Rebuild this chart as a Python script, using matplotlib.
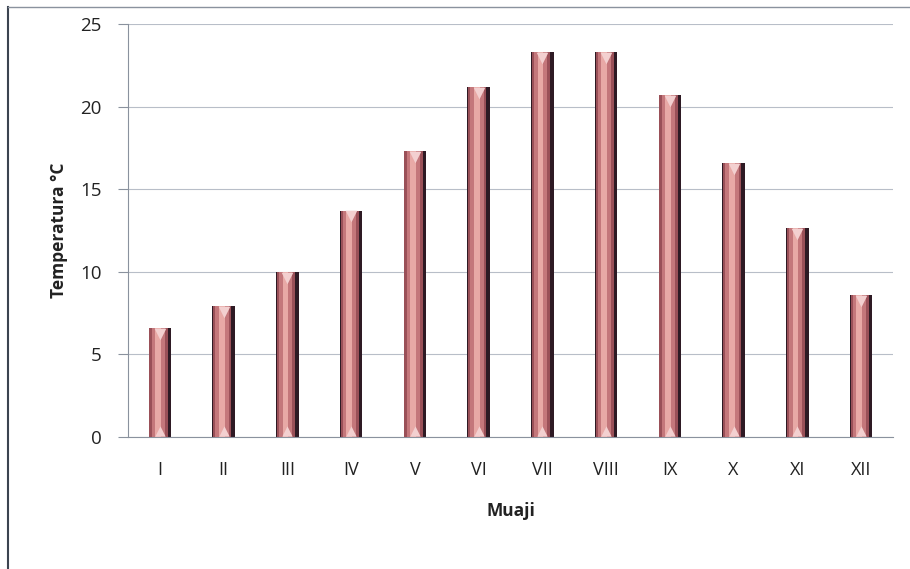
import matplotlib
matplotlib.use("Agg")
import matplotlib.pyplot as plt
from matplotlib.lines import Line2D
import numpy as np

months = ["I", "II", "III", "IV", "V", "VI", "VII", "VIII", "IX", "X", "XI", "XII"]
temps = [6.6, 7.9, 10.0, 13.7, 17.3, 21.2, 23.3, 23.3, 20.7, 16.6, 12.65, 8.6]
yticks = [0, 5, 10, 15, 20, 25]

plt.rcParams['font.family'] = ['Open Sans', 'DejaVu Sans']

fig = plt.figure(figsize=(9.10, 5.69), dpi=100)
ax = fig.add_axes([128/910, 1-437/569, (893-128)/910, (437-24)/569])

x = np.arange(len(months))
w = 0.35
# layered bars to mimic the bevelled cylinder look
ax.bar(x, temps, width=w, color="#2e1a24", zorder=2)
ax.bar(x - 0.02, temps, width=w*0.82, color="#9a5058", zorder=3)
ax.bar(x - 0.025, temps, width=w*0.6, color="#c4777b", zorder=4)
ax.bar(x - 0.03, temps, width=w*0.25, color="#e8a9a6", zorder=5)
ax.scatter(x, np.array(temps) - 0.35, marker="v", s=70, color="#f3d0d0", zorder=6, linewidths=0)
ax.scatter(x, np.full(len(x), 0.35), marker="^", s=55, color="#f3d0d0", zorder=6, linewidths=0)

ax.set_xlim(-0.5, len(months) - 0.5)
ax.set_ylim(0, 25)
ax.set_yticks(yticks)
ax.set_xticks(x)
ax.set_xticklabels(months)
ax.yaxis.grid(True, color="#b8bec8", linewidth=0.8)
ax.set_axisbelow(True)
for s in ["top", "right"]:
    ax.spines[s].set_visible(False)
ax.spines["left"].set_color("#8a929e")
ax.spines["bottom"].set_color("#8a929e")
ax.tick_params(axis="y", length=7, color="#8a929e", pad=12, labelsize=13.5, labelcolor="#222222")
ax.tick_params(axis="x", length=0, pad=17, labelsize=13, labelcolor="#222222")

ax.set_ylabel("Temperatura °C", fontsize=12.5, fontweight="bold", color="#222222", labelpad=9)
ax.set_xlabel("Muaji", fontsize=12.5, fontweight="bold", color="#222222", labelpad=17)

# outer chart frame (partially visible)
fig.add_artist(Line2D([8/910, 8/910], [0, 1-7/569], color="#3c4450", linewidth=1.5))
fig.add_artist(Line2D([8/910, 1], [1-7/569, 1-7/569], color="#8a929e", linewidth=1.0))

fig.savefig("out.png", dpi=100)
